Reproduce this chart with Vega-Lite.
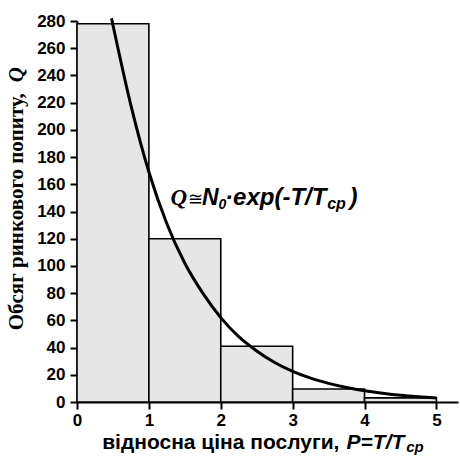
{
  "$schema": "https://vega.github.io/schema/vega-lite/v6.json",
  "width": 381,
  "height": 381,
  "autosize": "none",
  "padding": {"left": 77, "top": 21, "right": 2, "bottom": 54},
  "background": "white",
  "config": {
    "view": {"stroke": null},
    "axis": {
      "grid": false,
      "domainColor": "black",
      "domainWidth": 2,
      "tickColor": "black",
      "tickWidth": 2,
      "tickSize": 7,
      "labelFont": "Liberation Sans",
      "labelFontSize": 17,
      "labelFontWeight": "bold",
      "labelColor": "black",
      "labelOverlap": false,
      "labelFlush": false,
      "title": null
    },
    "axisX": {"labelPadding": 3, "tickCount": 5},
    "axisY": {"labelPadding": 5, "tickCount": 14},
    "text": {"align": "left", "baseline": "alphabetic", "color": "black", "fontWeight": "bold"}
  },
  "layer": [
    {
      "data": {"values": [
        {"p0": 0, "p1": 1, "q": 278},
        {"p0": 1, "p1": 2, "q": 120},
        {"p0": 2, "p1": 3, "q": 41},
        {"p0": 3, "p1": 4, "q": 9.5},
        {"p0": 4, "p1": 5, "q": 3}
      ]},
      "mark": {"type": "rect", "fill": "#e6e6e6", "stroke": "black", "strokeWidth": 1.6},
      "encoding": {
        "x": {"field": "p0", "type": "quantitative", "scale": {"domain": [0, 5.3], "nice": false}},
        "x2": {"field": "p1"},
        "y": {"field": "q", "type": "quantitative", "scale": {"domain": [0, 280], "nice": false}},
        "y2": {"datum": 0}
      }
    },
    {
      "data": {"values": [
        {"p": 0.48, "q": 282}, {"p": 0.75, "q": 218}, {"p": 1, "q": 169}, {"p": 1.25, "q": 131},
        {"p": 1.5, "q": 102}, {"p": 1.75, "q": 80}, {"p": 2, "q": 62}, {"p": 2.25, "q": 48},
        {"p": 2.5, "q": 37.5}, {"p": 2.75, "q": 29}, {"p": 3, "q": 22.5}, {"p": 3.25, "q": 17.5},
        {"p": 3.5, "q": 13.7}, {"p": 3.75, "q": 10.7}, {"p": 4, "q": 8.3}, {"p": 4.25, "q": 6.5},
        {"p": 4.5, "q": 5}, {"p": 4.75, "q": 3.9}, {"p": 5, "q": 3}
      ]},
      "mark": {"type": "line", "color": "black", "strokeWidth": 3, "interpolate": "monotone", "clip": false},
      "encoding": {
        "x": {"field": "p", "type": "quantitative"},
        "y": {"field": "q", "type": "quantitative"}
      }
    },
    {
      "data": {"values": [{}]},
      "mark": {"type": "text", "font": "Liberation Serif", "fontSize": 23, "fontStyle": "italic"},
      "encoding": {"x": {"datum": 1.3, "type": "quantitative"}, "y": {"datum": 144.6, "type": "quantitative"}, "text": {"value": "Q"}}
    },
    {
      "data": {"values": [{}]},
      "mark": {"type": "text", "font": "Liberation Serif", "fontSize": 18, "fontWeight": "normal"},
      "encoding": {"x": {"datum": 1.55, "type": "quantitative"}, "y": {"datum": 144.6, "type": "quantitative"}, "text": {"value": "≅"}}
    },
    {
      "data": {"values": [{}]},
      "mark": {"type": "text", "font": "Liberation Sans", "fontSize": 23, "fontStyle": "italic"},
      "encoding": {"x": {"datum": 1.74, "type": "quantitative"}, "y": {"datum": 144.6, "type": "quantitative"}, "text": {"value": "N"}}
    },
    {
      "data": {"values": [{}]},
      "mark": {"type": "text", "font": "Liberation Sans", "fontSize": 14, "fontStyle": "italic"},
      "encoding": {"x": {"datum": 1.97, "type": "quantitative"}, "y": {"datum": 141.5, "type": "quantitative"}, "text": {"value": "0"}}
    },
    {
      "data": {"values": [{}]},
      "mark": {"type": "text", "font": "Liberation Sans", "fontSize": 24, "fontStyle": "italic"},
      "encoding": {"x": {"datum": 2.06, "type": "quantitative"}, "y": {"datum": 144.6, "type": "quantitative"}, "text": {"value": "·exp(-T/T"}}
    },
    {
      "data": {"values": [{}]},
      "mark": {"type": "text", "font": "Liberation Sans", "fontSize": 16, "fontStyle": "italic"},
      "encoding": {"x": {"datum": 3.48, "type": "quantitative"}, "y": {"datum": 142, "type": "quantitative"}, "text": {"value": "cp"}}
    },
    {
      "data": {"values": [{}]},
      "mark": {"type": "text", "font": "Liberation Sans", "fontSize": 24, "fontStyle": "italic"},
      "encoding": {"x": {"datum": 3.79, "type": "quantitative"}, "y": {"datum": 144.6, "type": "quantitative"}, "text": {"value": ")"}}
    },
    {
      "data": {"values": [{}]},
      "mark": {"type": "text", "font": "Liberation Sans", "fontSize": 21},
      "encoding": {"x": {"datum": 0.35, "type": "quantitative"}, "y": {"datum": -34.8, "type": "quantitative"}, "text": {"value": "відносна ціна послуги,"}}
    },
    {
      "data": {"values": [{}]},
      "mark": {"type": "text", "font": "Liberation Sans", "fontSize": 21, "fontStyle": "italic"},
      "encoding": {"x": {"datum": 3.75, "type": "quantitative"}, "y": {"datum": -34.8, "type": "quantitative"}, "text": {"value": "P=T/T"}}
    },
    {
      "data": {"values": [{}]},
      "mark": {"type": "text", "font": "Liberation Sans", "fontSize": 15, "fontStyle": "italic"},
      "encoding": {"x": {"datum": 4.58, "type": "quantitative"}, "y": {"datum": -36.5, "type": "quantitative"}, "text": {"value": "cp"}}
    },
    {
      "data": {"values": [{}]},
      "mark": {"type": "text", "font": "Liberation Serif", "fontSize": 21, "angle": 270},
      "encoding": {"x": {"datum": -0.75, "type": "quantitative"}, "y": {"datum": 52.7, "type": "quantitative"}, "text": {"value": "Обсяг ринкового попиту,"}}
    },
    {
      "data": {"values": [{}]},
      "mark": {"type": "text", "font": "Liberation Serif", "fontSize": 21, "fontStyle": "italic", "angle": 270},
      "encoding": {"x": {"datum": -0.75, "type": "quantitative"}, "y": {"datum": 235, "type": "quantitative"}, "text": {"value": "Q"}}
    }
  ]
}
